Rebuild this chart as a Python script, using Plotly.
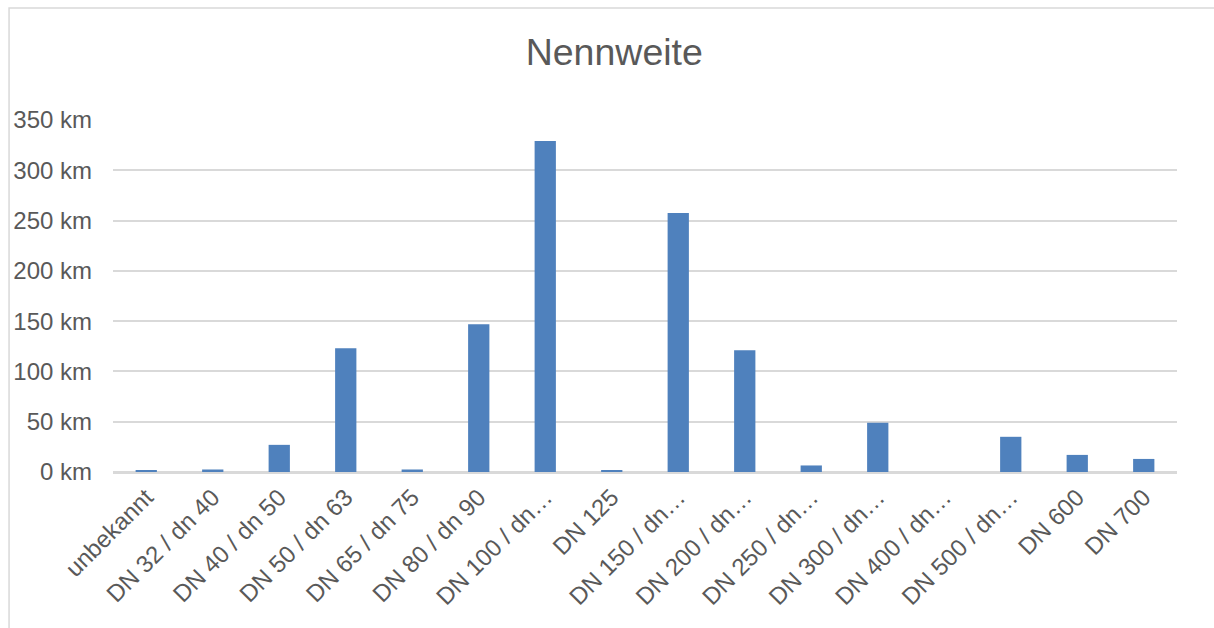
import plotly.graph_objects as go

# Pipe length per nominal diameter
categories = [
    "unbekannt", "DN 32 / dn 40", "DN 40 / dn 50", "DN 50 / dn 63",
    "DN 65 / dn 75", "DN 80 / dn 90", "DN 100 / dn…", "DN 125",
    "DN 150 / dn…", "DN 200 / dn…", "DN 250 / dn…", "DN 300 / dn…",
    "DN 400 / dn…", "DN 500 / dn…", "DN 600", "DN 700",
]
length_km = [1, 2.5, 27, 123, 2.5, 147, 329, 1, 257.5, 121, 6.5, 49, 0, 35, 17, 13]

y_ticks = [0, 50, 100, 150, 200, 250, 300, 350]
y_tick_text = [f"{v} km" for v in y_ticks]

FONT = "Liberation Sans, Arial, sans-serif"
TEXT = "#595959"
GRID = "#d9d9d9"

fig = go.Figure(
    go.Bar(
        x=categories,
        y=length_km,
        marker=dict(color="#4F81BD", line=dict(width=0)),
        hoverinfo="x+y",
    )
)

fig.update_layout(
    width=1214,
    height=628,
    paper_bgcolor="white",
    plot_bgcolor="white",
    margin=dict(l=113, r=37, t=120, b=156),
    bargap=0.68,
    showlegend=False,
    title=dict(
        text="Nennweite",
        x=0.506,
        xanchor="center",
        xref="container",
        y=1 - 52 / 628,
        yref="container",
        yanchor="middle",
        font=dict(family=FONT, size=37.5, color=TEXT),
    ),
    font=dict(family=FONT, color=TEXT),
    shapes=[
        dict(
            type="rect", xref="paper", yref="paper",
            x0=-0.0977, x1=1.04, y0=-0.5, y1=1.318,
            line=dict(color=GRID, width=1.5), fillcolor="rgba(0,0,0,0)",
            layer="below",
        )
    ],
)

fig.update_xaxes(
    tickangle=-45,
    tickfont=dict(family=FONT, size=24, color=TEXT),
    showgrid=False,
    showline=True,
    linecolor=GRID,
    linewidth=1.5,
    ticks="",
    automargin=False,
)

fig.update_yaxes(
    range=[0, 350],
    tickvals=y_ticks,
    ticktext=y_tick_text,
    tickfont=dict(family=FONT, size=24, color=TEXT),
    showgrid=True,
    gridcolor=GRID,
    gridwidth=1.5,
    zeroline=True,
    zerolinecolor=GRID,
    zerolinewidth=1.5,
    showline=False,
    ticklabelstandoff=20,
    automargin=False,
)

fig.write_html("out.html")
